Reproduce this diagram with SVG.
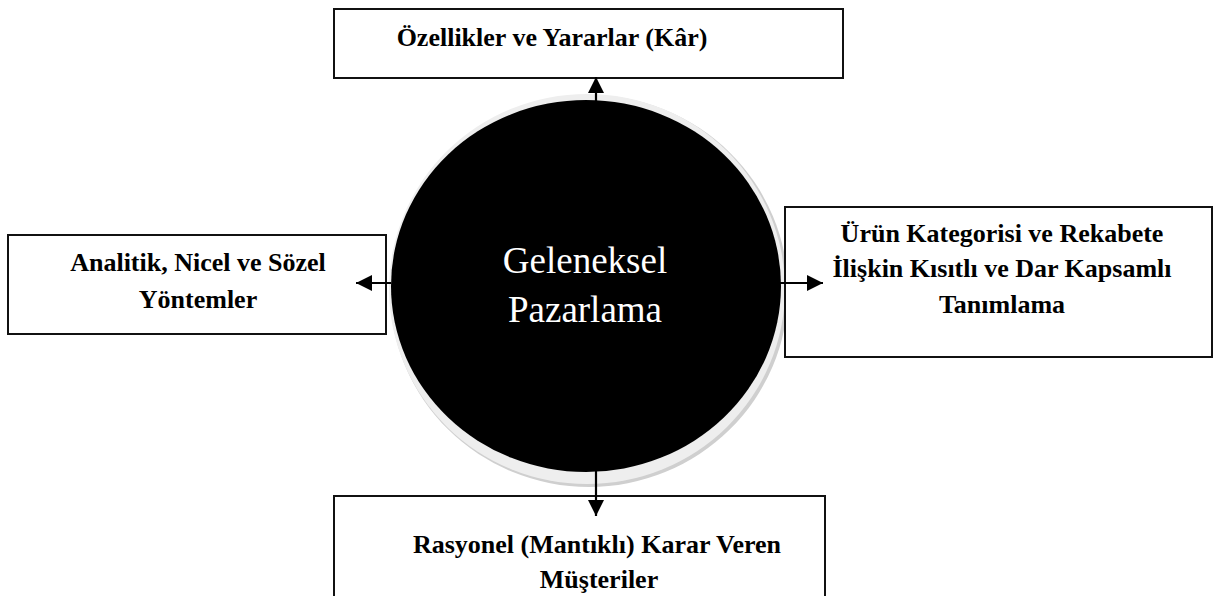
<svg xmlns="http://www.w3.org/2000/svg" width="1216" height="596" viewBox="0 0 1216 596">
  <style>
    .box { fill: #ffffff; stroke: #111111; stroke-width: 2; }
    .label { font-family: "Liberation Serif", serif; font-weight: bold; font-size: 26px; fill: #000000; text-anchor: middle; }
    .core { font-family: "Liberation Serif", serif; font-size: 37px; fill: #ffffff; text-anchor: middle; }
    .link { stroke: #000000; stroke-width: 2.2; fill: none; marker-end: url(#head); }
  </style>
  <defs>
    <marker id="head" viewBox="0 0 16 16" markerWidth="16" markerHeight="16" refX="16" refY="8" orient="auto" markerUnits="userSpaceOnUse">
      <path d="M0,0 L16,8 L0,16 Z" fill="#000000"/>
    </marker>
  </defs>

  <!-- central concept: black disc with soft raised rim -->
  <g id="node-core">
    <ellipse cx="589" cy="291" rx="199" ry="196" fill="#cfcfcf"/>
    <ellipse cx="587" cy="289" rx="198" ry="195" fill="#eeeeee"/>
    <ellipse cx="586" cy="286" rx="195" ry="186" fill="#000000"/>
    <text class="core" x="585" y="273">Geleneksel</text>
    <text class="core" x="585" y="322">Pazarlama</text>
  </g>

  <g id="node-top">
    <rect class="box" x="334" y="9" width="509" height="69"/>
    <text class="label" x="552" y="46">Özellikler ve Yararlar (Kâr)</text>
  </g>

  <g id="node-left">
    <rect class="box" x="8" y="235" width="378" height="99"/>
    <text class="label" x="198" y="271">Analitik, Nicel ve Sözel</text>
    <text class="label" x="198" y="308">Yöntemler</text>
  </g>

  <g id="node-right">
    <rect class="box" x="785" y="207" width="427" height="150"/>
    <text class="label" x="1002" y="242">Ürün Kategorisi ve Rekabete</text>
    <text class="label" x="1002" y="277">İlişkin Kısıtlı ve Dar Kapsamlı</text>
    <text class="label" x="1002" y="313">Tanımlama</text>
  </g>

  <g id="node-bottom">
    <rect class="box" x="334" y="496" width="491" height="110"/>
    <text class="label" x="597" y="553">Rasyonel (Mantıklı) Karar Veren</text>
    <text class="label" x="599" y="588">Müşteriler</text>
  </g>

  <g id="connectors">
    <line class="link" x1="596" y1="101" x2="596" y2="77"/>
    <line class="link" x1="391" y1="283" x2="356" y2="283"/>
    <line class="link" x1="780" y1="283" x2="823" y2="283"/>
    <line class="link" x1="596" y1="471" x2="596" y2="516"/>
  </g>
</svg>
